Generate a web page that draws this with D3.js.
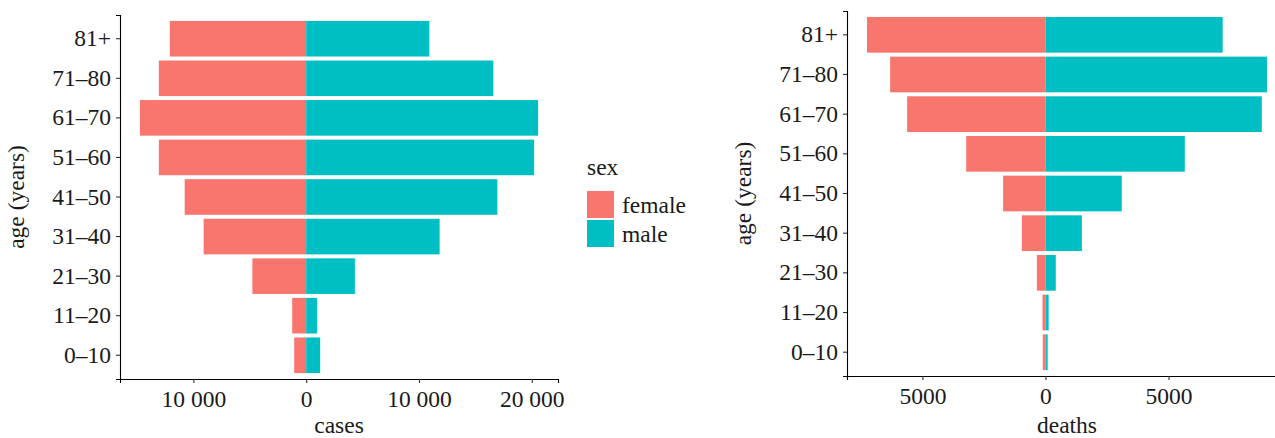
<!DOCTYPE html>
<html>
<head>
<meta charset="utf-8">
<script src="https://cdn.jsdelivr.net/npm/d3@7"></script>
<style>
  body { margin: 0; background: #fff; }
  text { font-family: "Liberation Serif", "Times New Roman", serif; fill: #1a1a1a; }
</style>
</head>
<body>
<div id="chart"></div>
<script>
// age groups, bottom to top
const ageGroups = ["0–10", "11–20", "21–30", "31–40", "41–50", "51–60", "61–70", "71–80", "81+"];
const sexes = ["female", "male"];
const sexColors = ["#F8766D", "#00BFC4"];

// cases by sex
const casesFemale = [1060, 1240, 4770, 9090, 10770, 13060, 14740, 13060, 12090];
const casesMale = [1240, 970, 4320, 11830, 16950, 20210, 20560, 16590, 10920];

// deaths by sex
const deathsFemale = [110, 120, 350, 960, 1720, 3220, 5620, 6310, 7250];
const deathsMale = [90, 130, 420, 1480, 3100, 5660, 8790, 9000, 7200];

const casesTicks = [-10000, 0, 10000, 20000];
const deathsTicks = [-5000, 0, 5000];

const fontSize = 23.5;

const svg = d3.select("#chart")
    .append("svg")
    .attr("width", 1275)
    .attr("height", 438);

const color = d3.scaleOrdinal().domain(sexes).range(sexColors);

// R-like label: abs value, space as thousands mark only for 5+ digits
function fmt(v) {
    const a = Math.abs(v);
    return a >= 10000 ? d3.format(",")(a).replace(/,/g, " ") : String(a);
}

function pyramid(panel, female, male, ticks, xTitle) {
    const g = svg.append("g");
    const rows = ageGroups.map((a, i) => ({ age: a, female: female[i], male: male[i] }));

    // ggplot-style 5% expansion
    const lo = -d3.max(female), hi = d3.max(male);
    const pad = (hi - lo) * 0.05;
    const x = d3.scaleLinear().domain([lo - pad, hi + pad]).range([panel.x0, panel.x1]);
    const y = d3.scaleBand().domain(ageGroups.slice().reverse())
        .range([panel.y0, panel.y1]).paddingInner(0.1).paddingOuter(0.15);

    // female bars (to the left)
    g.selectAll(".f").data(rows).enter().append("rect")
        .attr("x", d => x(-d.female))
        .attr("y", d => y(d.age))
        .attr("width", d => x(0) - x(-d.female))
        .attr("height", y.bandwidth())
        .attr("fill", color("female"));

    // male bars (to the right)
    g.selectAll(".m").data(rows).enter().append("rect")
        .attr("x", x(0))
        .attr("y", d => y(d.age))
        .attr("width", d => x(d.male) - x(0))
        .attr("height", y.bandwidth())
        .attr("fill", color("male"));

    const xAxis = g.append("g")
        .attr("transform", `translate(0,${panel.y1})`)
        .call(d3.axisBottom(x).tickValues(ticks).tickFormat(fmt).tickSizeOuter(0).tickSize(4).tickPadding(5));
    const yAxis = g.append("g")
        .attr("transform", `translate(${panel.x0},0)`)
        .call(d3.axisLeft(y).tickSizeOuter(0).tickSize(4).tickPadding(5));

    [xAxis, yAxis].forEach(a => {
        a.select(".domain").attr("stroke", "#000").attr("stroke-width", 1.1);
        a.selectAll(".tick line").attr("stroke", "#333").attr("stroke-width", 1.1);
        a.selectAll(".tick text").attr("font-size", fontSize).attr("fill", "#1a1a1a")
            .style("font-family", "'Liberation Serif', serif");
    });
    xAxis.selectAll(".tick text").attr("dy", "0.8em");

    // axis titles
    g.append("text")
        .attr("x", (panel.x0 + panel.x1) / 2)
        .attr("y", 433)
        .attr("text-anchor", "middle")
        .attr("font-size", fontSize)
        .text(xTitle);
    g.append("text")
        .attr("transform", `translate(${panel.x0 - 96},${(panel.y0 + panel.y1) / 2}) rotate(-90)`)
        .attr("text-anchor", "middle")
        .attr("font-size", fontSize)
        .text("age (years)");
}

pyramid({ x0: 120, x1: 558, y0: 15, y1: 379 }, casesFemale, casesMale, casesTicks, "cases");
pyramid({ x0: 847, x1: 1287, y0: 11, y1: 376 }, deathsFemale, deathsMale, deathsTicks, "deaths");

// legend
const legend = svg.append("g").attr("transform", "translate(587,0)");
legend.append("text").attr("x", 0).attr("y", 175).attr("font-size", fontSize).text("sex");
const keys = legend.selectAll(".key").data(sexes).enter().append("g")
    .attr("transform", (d, i) => `translate(0,${191 + i * 29})`);
keys.append("rect").attr("width", 27).attr("height", 27).attr("fill", d => color(d));
keys.append("text").attr("x", 35).attr("y", 21.5).attr("font-size", fontSize).text(d => d);
</script>
</body>
</html>
